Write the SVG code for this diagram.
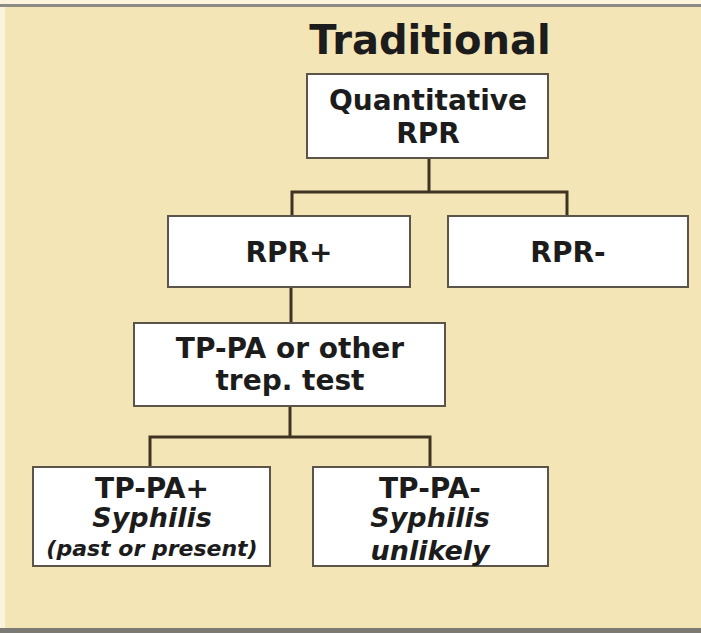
<svg xmlns="http://www.w3.org/2000/svg" width="701" height="633" viewBox="0 0 701 633">
  <style>
    .box { fill: #ffffff; stroke: #5a544a; stroke-width: 2; }
    .wire { fill: none; stroke: #3f3422; stroke-width: 3; stroke-linecap: square; }
    .t { font-family: "DejaVu Sans", "Liberation Sans", sans-serif; font-weight: bold; fill: #1c1c1c; text-anchor: middle; }
    .lab { font-size: 28px; }
    .sm { font-size: 27px; }
    .it { font-style: italic; }
  </style>

  <!-- panel background and frame lines -->
  <rect x="0" y="0" width="701" height="633" fill="#fbf3dc"/>
  <rect x="5" y="6" width="696" height="624" fill="#f4e5b7"/>
  <rect x="0" y="4" width="701" height="3" fill="#8c8a84"/>
  <rect x="0" y="628" width="701" height="5" fill="#7c7a74"/>

  <text class="t" x="430" y="54" font-size="40">Traditional</text>

  <!-- connectors -->
  <g id="connectors">
    <path class="wire" d="M429 158 V192 M292 192 H567 M292 192 V216 M567 192 V216"/>
    <path class="wire" d="M291 287 V323"/>
    <path class="wire" d="M290 406 V437 M150 437 H430 M150 437 V467 M430 437 V467"/>
  </g>

  <g id="quantitative-rpr">
    <rect class="box" x="307" y="74" width="241" height="84"/>
    <text class="t lab" x="428" y="110">Quantitative</text>
    <text class="t lab" x="428" y="143">RPR</text>
  </g>

  <g id="rpr-pos">
    <rect class="box" x="168" y="216" width="242" height="71"/>
    <text class="t lab" x="289" y="262">RPR+</text>
  </g>

  <g id="rpr-neg">
    <rect class="box" x="448" y="216" width="240" height="71"/>
    <text class="t lab" x="568" y="262">RPR-</text>
  </g>

  <g id="tppa-test">
    <rect class="box" x="134" y="323" width="311" height="83"/>
    <text class="t lab" x="290" y="358">TP-PA or other</text>
    <text class="t lab" x="290" y="390">trep. test</text>
  </g>

  <g id="tppa-pos">
    <rect class="box" x="33" y="467" width="237" height="99"/>
    <text class="t lab" x="152" y="498">TP-PA+</text>
    <text class="t sm it" x="152" y="527">Syphilis</text>
    <text class="t it" x="152" y="556" font-size="22">(past or present)</text>
  </g>

  <g id="tppa-neg">
    <rect class="box" x="313" y="467" width="235" height="99"/>
    <text class="t lab" x="430" y="498">TP-PA-</text>
    <text class="t sm it" x="430" y="527">Syphilis</text>
    <text class="t sm it" x="430" y="560">unlikely</text>
  </g>
</svg>
